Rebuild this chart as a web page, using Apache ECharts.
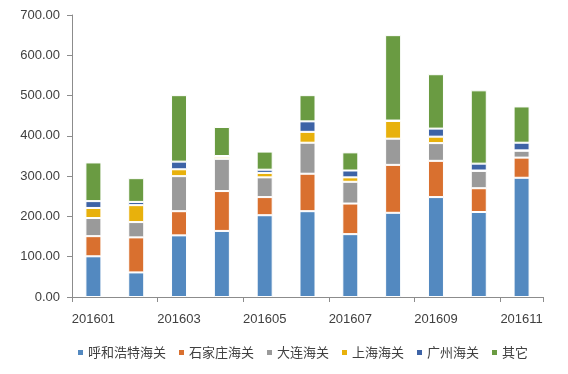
<!DOCTYPE html>
<html><head><meta charset="utf-8">
<script src="https://cdn.jsdelivr.net/npm/echarts@6/dist/echarts.min.js"></script>
<style>html,body{margin:0;padding:0;background:#fff}#c{width:568px;height:374px}</style>
</head><body><div id="c"></div>
<script>
const categories = ['201601','201602','201603','201604','201605','201606','201607','201608','201609','201610','201611'];
const seriesNames = ['呼和浩特海关','石家庄海关','大连海关','上海海关','广州海关','其它'];
const hohhot   = [101, 61, 153, 164, 203, 213, 156, 209, 248, 211, 296];
const shijiazhuang = [50, 87, 60, 99, 45, 93, 76, 119, 90, 59, 50];
const dalian   = [45, 38, 87, 80, 49, 77, 54, 65, 44, 43, 17];
const shanghai = [25, 42, 17, 5, 11, 27, 11, 44, 16, 1, 1];
const guangzhou = [17, 8, 19, 2, 8, 26, 17, 1, 20, 17, 19];
const others   = [96, 59, 165, 72, 45, 65, 45, 212, 135, 182, 90];
const yTicks = { min: 0, max: 700, interval: 100 };
const colors = ['#5389c0','#d9702f','#9a9a9a','#e8b10c','#3d63a6','#6a9b42'];

const dataSets = [hohhot, shijiazhuang, dalian, shanghai, guangzhou, others];
const font = 'Liberation Sans, Arial, sans-serif';
const chart = echarts.init(document.getElementById('c'), null, {renderer:'canvas'});
chart.setOption({
  animation: false,
  color: colors,
  grid: { left: 72, right: 25, top: 15, bottom: 77 },
  legend: {
    data: seriesNames,
    left: 71, top: 341,
    itemWidth: 7, itemHeight: 7, itemGap: 11,
    icon: 'rect',
    textStyle: { fontSize: 13, color: '#404040', fontFamily: 'Noto Sans CJK SC' , padding:[0,0,0,-1]}
  },
  xAxis: {
    type: 'category', data: categories,
    axisLine: { lineStyle: { color: '#8c8c8c' } },
    axisTick: { show: true, alignWithLabel: false, length: 5, lineStyle: { color: '#8c8c8c' } },
    axisLabel: { interval: 1, color: '#404040', fontSize: 13, fontFamily: font, margin: 16 }
  },
  yAxis: {
    type: 'value', min: yTicks.min, max: yTicks.max, interval: yTicks.interval,
    splitLine: { show: false },
    axisLine: { show: true, lineStyle: { color: '#8c8c8c' } },
    axisTick: { show: true, length: 5, lineStyle: { color: '#8c8c8c' } },
    axisLabel: { color: '#404040', fontSize: 13, fontFamily: font, margin: 12,
      formatter: v => v.toFixed(2) }
  },
  series: seriesNames.map((n, i) => ({
    name: n, type: 'bar', stack: 'total', barWidth: 16,
    data: dataSets[i],
    itemStyle: { color: colors[i], borderColor: '#fff', borderWidth: 1 }
  }))
});
</script></body></html>
